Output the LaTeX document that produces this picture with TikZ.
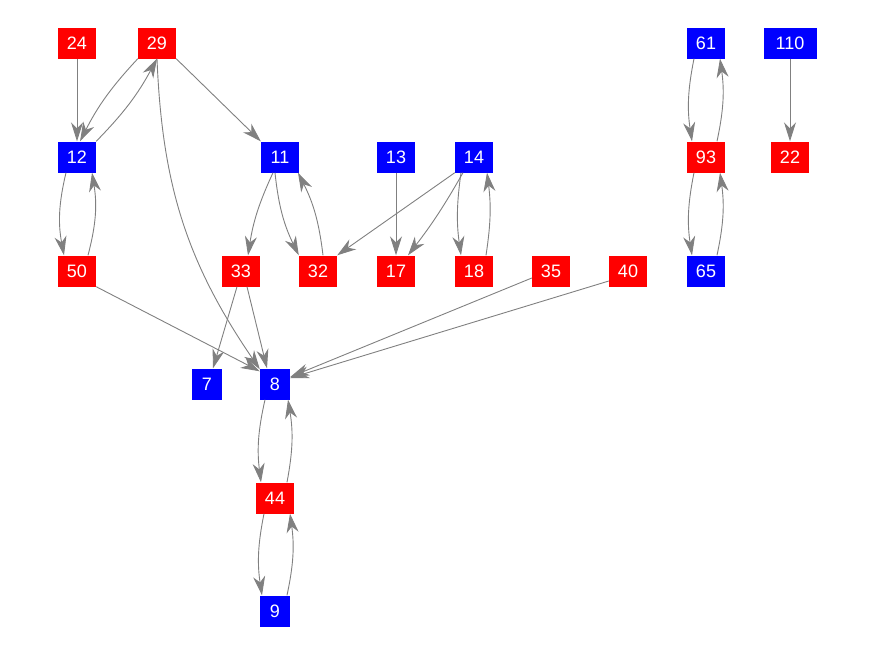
\documentclass[tikz,border=0pt]{standalone}
\usepackage{fontspec}
\setmainfont{Liberation Sans}
\usetikzlibrary{arrows.meta}
\definecolor{nred}{RGB}{255,0,0}
\definecolor{nblue}{RGB}{0,0,255}
\definecolor{egray}{RGB}{128,128,128}
\begin{document}
\begin{tikzpicture}[x=1pt,y=1pt,
  vbox/.style={inner sep=0pt,minimum width=38pt,minimum height=31pt,text=white,font=\fontsize{18}{18}\selectfont},
  rbox/.style={vbox,fill=nred},
  bbox/.style={vbox,fill=nblue},
  narrow/.style={minimum width=30pt},
  wide/.style={minimum width=53pt},
  edge/.style={draw=egray,line width=0.9pt,-{Stealth[length=19pt,width=12pt,inset=6pt,fill=egray]}},
  ]
\useasboundingbox (0,0) rectangle (876,-656);
% row 1
\node[rbox] (n24) at (77,-43) {24};
\node[rbox] (n29) at (157,-43) {29};
\node[bbox] (n61) at (706,-43) {61};
\node[bbox,wide] (n110) at (790,-43) {110};
% row 2
\node[bbox] (n12) at (77,-157) {12};
\node[bbox] (n11) at (280,-157) {11};
\node[bbox] (n13) at (396,-157) {13};
\node[bbox] (n14) at (474,-157) {14};
\node[rbox] (n93) at (706,-157) {93};
\node[rbox] (n22) at (790,-157) {22};
% row 3
\node[rbox] (n50) at (77,-271) {50};
\node[rbox] (n33) at (241,-271) {33};
\node[rbox] (n32) at (318,-271) {32};
\node[rbox] (n17) at (396,-271) {17};
\node[rbox] (n18) at (474,-271) {18};
\node[rbox] (n35) at (551,-271) {35};
\node[rbox] (n40) at (628,-271) {40};
\node[bbox] (n65) at (706,-271) {65};
% row 4-6
\node[bbox,narrow] (n7) at (207,-384) {7};
\node[bbox,narrow] (n8) at (275,-384) {8};
\node[rbox] (n44) at (275,-498) {44};
\node[bbox,narrow] (n9) at (275,-611) {9};
% edges
\draw[edge] (n24.south) -- (n12.north);
\draw[edge] (n29.south west) to[bend right=8] ([xshift=3pt]n12.north);
\draw[edge] (n12.north east) to[bend right=8] (n29.south);
\draw[edge] (n29.south east) -- (n11.north west);
\draw[edge] (n29.south) to[bend right=16] ([yshift=-1pt]n8.north west);
\draw[edge] ([xshift=-11pt]n12.south) to[bend right=12] ([xshift=-13pt]n50.north);
\draw[edge] ([xshift=11pt]n50.north) to[bend right=12] ([xshift=15pt]n12.south);
\draw[edge] ([xshift=-7pt]n11.south) to[bend right=8] ([xshift=7pt]n33.north);
\draw[edge] ([xshift=-5pt]n11.south) to[bend right=10] (n32.north west);
\draw[edge] ([xshift=5pt]n32.north) to[bend right=10] ([xshift=18pt]n11.south);
\draw[edge] (n13.south) -- (n17.north);
\draw[edge] (n14.south west) -- (n32.north east);
\draw[edge] ([xshift=-11pt]n14.south) to[bend left=4] ([xshift=12pt]n17.north);
\draw[edge] ([xshift=-13pt]n14.south) to[bend right=8] ([xshift=-13pt]n18.north);
\draw[edge] ([xshift=12pt]n18.north) to[bend right=8] ([xshift=13pt]n14.south);
\draw[edge] (n50.south east) -- ([yshift=-3pt]n8.north west);
\draw[edge] ([xshift=-4pt]n33.south) -- ([xshift=6pt]n7.north);
\draw[edge] ([xshift=6pt]n33.south) -- ([xshift=-8pt]n8.north);
\draw[edge] ([yshift=-7pt]n35.west) -- ([yshift=7pt]n8.east);
\draw[edge] ([yshift=-10pt]n40.west) -- ([yshift=6pt]n8.east);
\draw[edge] ([xshift=-10pt]n8.south) to[bend right=10] ([xshift=-14pt]n44.north);
\draw[edge] ([xshift=12pt]n44.north) to[bend right=10] ([xshift=13pt]n8.south);
\draw[edge] ([xshift=-11pt]n44.south) to[bend right=10] ([xshift=-13pt]n9.north);
\draw[edge] ([xshift=12pt]n9.north) to[bend right=10] ([xshift=15pt]n44.south);
\draw[edge] ([xshift=-12pt]n61.south) to[bend right=10] ([xshift=-14pt]n93.north);
\draw[edge] ([xshift=11pt]n93.north) to[bend right=10] ([xshift=14pt]n61.south);
\draw[edge] ([xshift=-12pt]n93.south) to[bend right=10] ([xshift=-14pt]n65.north);
\draw[edge] ([xshift=11pt]n65.north) to[bend right=10] ([xshift=14pt]n93.south);
\draw[edge] (n110.south) -- (n22.north);
\end{tikzpicture}
\end{document}
